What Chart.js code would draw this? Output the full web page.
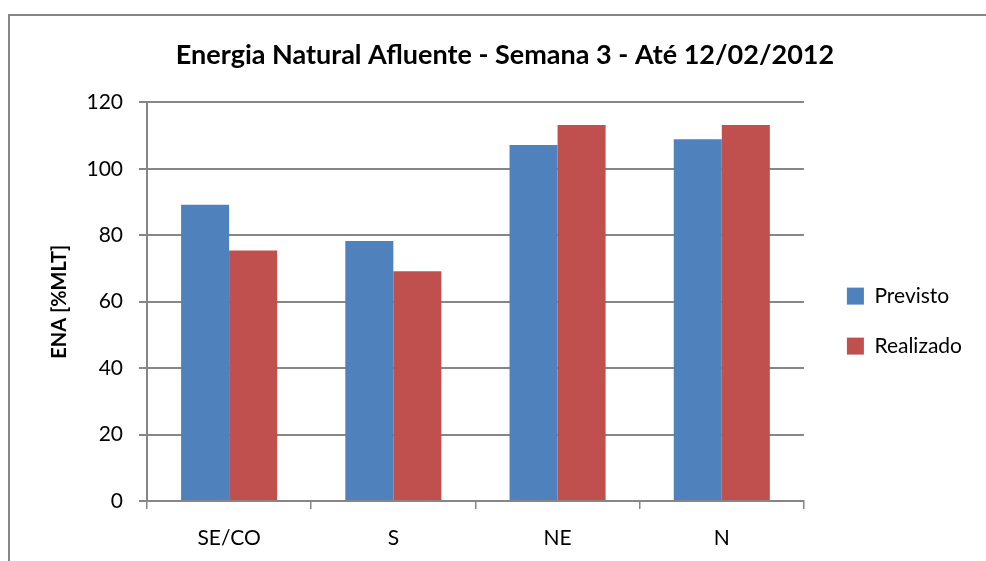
<!DOCTYPE html>
<html>
<head>
<meta charset="utf-8">
<script src="https://cdn.jsdelivr.net/npm/chart.js@4.4.1/dist/chart.umd.min.js"></script>
<style>
  html, body { margin: 0; padding: 0; background: #fff; }
  #wrap { width: 986px; height: 561px; position: relative; }
</style>
</head>
<body>
<div id="wrap"><canvas id="enaChart" width="986" height="561"></canvas></div>
<script>
const regions = ["SE/CO", "S", "NE", "N"];
const previsto = [89.2, 78.3, 107.2, 108.9];
const realizado = [75.4, 69.2, 113.2, 113.2];
const yTicks = [0, 20, 40, 60, 80, 100, 120];

const FONT = "Lato, 'Open Sans', sans-serif";
const GRID = "#868686";

// outer frame of the original sheet object (top and left edges are visible)
const framePlugin = {
  id: "frame",
  beforeDraw(chart) {
    const ctx = chart.ctx;
    ctx.save();
    ctx.fillStyle = "#fff";
    ctx.fillRect(0, 0, chart.width, chart.height);
    ctx.strokeStyle = GRID;
    ctx.lineWidth = 2;
    ctx.beginPath();
    ctx.moveTo(9, chart.height);
    ctx.lineTo(9, 15);
    ctx.lineTo(chart.width, 15);
    ctx.stroke();
    ctx.restore();
  },
};

document.addEventListener("DOMContentLoaded", () => {
  const el = document.getElementById("enaChart");
  new Chart(el, {
    type: "bar",
    data: {
      labels: regions,
      datasets: [
        {
          label: "Previsto",
          data: previsto,
          backgroundColor: "#4F81BD",
        },
        {
          label: "Realizado",
          data: realizado,
          backgroundColor: "#C0504D",
        },
      ],
    },
    options: {
      responsive: false,
      animation: false,
      layout: { padding: { left: 38, right: 14, top: 0, bottom: 0 } },
      datasets: {
        bar: { categoryPercentage: 0.585, barPercentage: 1.0 },
      },
      plugins: {
        title: {
          display: true,
          text: "Energia Natural Afluente - Semana 3 - Até 12/02/2012",
          color: "#000",
          font: { family: FONT, size: 27, weight: "bold" },
          padding: { top: 39, bottom: 31 },
        },
        legend: {
          position: "right",
          align: "center",
          title: {
            display: true,
            text: " ",
            font: { size: 1 },
            padding: { top: 80, bottom: 0 },
          },
          labels: {
            boxWidth: 17,
            boxHeight: 17,
            padding: 29,
            color: "#000",
            font: { family: FONT, size: 21 },
          },
        },
        tooltip: { enabled: false },
      },
      scales: {
        x: {
          grid: {
            display: true,
            drawOnChartArea: false,
            offset: true,
            tickLength: 8,
            color: GRID,
            lineWidth: 1.5,
          },
          border: { display: true, color: GRID, width: 2 },
          ticks: {
            color: "#000",
            font: { family: FONT, size: 21 },
            padding: 17,
          },
          afterFit: (scale) => {
            scale.height = 60;
          },
        },
        y: {
          min: 0,
          max: 120,
          afterBuildTicks: (scale) => {
            scale.ticks = yTicks.map((v) => ({ value: v }));
          },
          grid: {
            color: GRID,
            lineWidth: 2,
            tickLength: 8,
          },
          border: { display: true, color: GRID, width: 2 },
          ticks: {
            color: "#000",
            font: { family: FONT, size: 21 },
            padding: 16,
          },
          title: {
            display: true,
            text: "ENA [%MLT]",
            color: "#000",
            font: { family: FONT, size: 20, weight: "bold" },
            padding: { top: 10, bottom: 0 },
          },
          afterFit: (scale) => {
            scale.width = 109;
          },
        },
        // empty spacer on the right so the legend sits a bit away from the plot
        spacer: {
          type: "linear",
          position: "right",
          display: true,
          grid: { display: false, drawOnChartArea: false },
          border: { display: false },
          ticks: { display: false },
          afterFit: (scale) => {
            scale.width = 14;
          },
        },
      },
    },
    plugins: [framePlugin],
  });
});
</script>
</body>
</html>
